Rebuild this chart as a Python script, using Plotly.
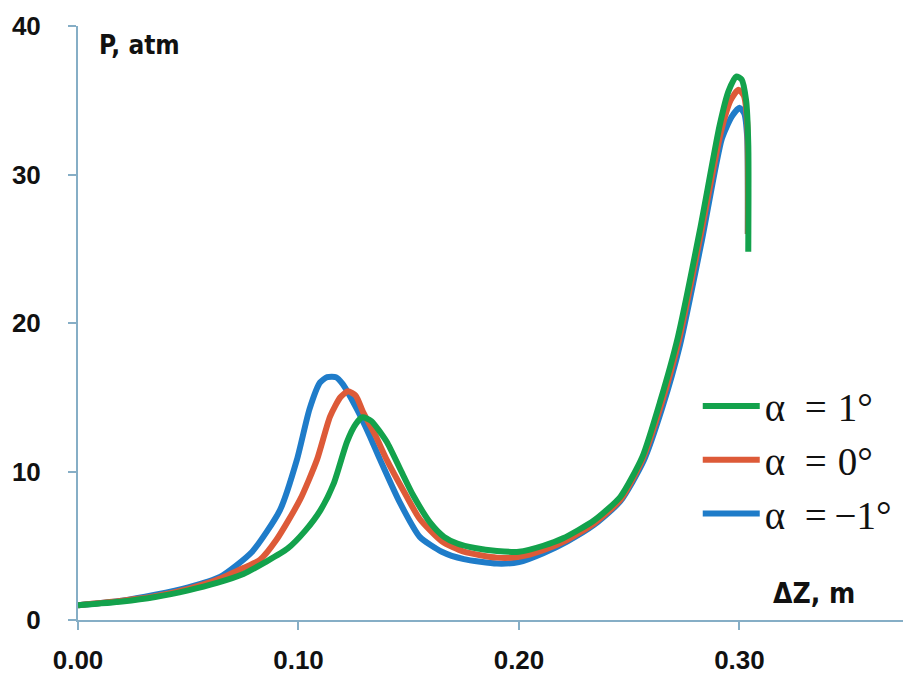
import plotly.graph_objects as go

# alpha = 1 deg (green)
x_p1 = [0, 0.02, 0.035, 0.05, 0.063, 0.075, 0.085, 0.095, 0.103, 0.11, 0.116, 0.122, 0.126, 0.129,
        0.133, 0.14, 0.146, 0.152, 0.16, 0.166, 0.172, 0.18, 0.19, 0.2, 0.211, 0.22, 0.234, 0.246, 0.256,
        0.264, 0.272, 0.282, 0.291, 0.295, 0.2985, 0.301, 0.303, 0.304, 0.304]
p_p1 = [1.0, 1.25, 1.55, 2.0, 2.5, 3.1, 3.9, 4.8, 6.0, 7.4, 9.2, 12.0, 13.2, 13.65,
        13.4, 12.0, 10.2, 8.4, 6.5, 5.6, 5.15, 4.85, 4.65, 4.6, 5.0, 5.5, 6.7, 8.3, 11.0,
        14.7, 19.0, 26.2, 33.3, 35.6, 36.6, 36.4, 35.0, 32.0, 24.8]

# alpha = 0 deg (orange)
x_0 = [0, 0.02, 0.035, 0.05, 0.063, 0.075, 0.0825, 0.09, 0.1007, 0.1084, 0.1143, 0.119, 0.1224,
       0.126, 0.1293, 0.135, 0.14, 0.148, 0.155, 0.165, 0.175, 0.19, 0.2, 0.211, 0.222, 0.234,
       0.246, 0.256, 0.2645, 0.2725, 0.2825, 0.2915, 0.296, 0.2995, 0.302, 0.3035, 0.3038]
p_0 = [1.0, 1.3, 1.6, 2.1, 2.7, 3.5, 4.05, 5.4, 8.1, 10.8, 13.7, 15.0, 15.4,
       15.1, 14.0, 12.4, 10.8, 8.6, 6.8, 5.3, 4.6, 4.2, 4.25, 4.7, 5.4, 6.5,
       8.1, 10.8, 14.5, 18.8, 26.0, 32.8, 35.0, 35.7, 35.3, 33.5, 26.0]

# alpha = -1 deg (blue)
x_m1 = [0, 0.02, 0.035, 0.05, 0.0644, 0.079, 0.0916, 0.0993, 0.105, 0.1098, 0.113, 0.117, 0.12,
        0.1265, 0.132, 0.137, 0.146, 0.155, 0.165, 0.175, 0.19, 0.2, 0.211, 0.222, 0.234, 0.246,
        0.2565, 0.265, 0.273, 0.283, 0.292, 0.2965, 0.3, 0.3022, 0.3035, 0.3038]
p_m1 = [1.0, 1.3, 1.7, 2.2, 2.9, 4.6, 7.4, 10.8, 14.2, 16.0, 16.35, 16.35, 15.9,
        14.2, 12.5, 10.8, 7.9, 5.6, 4.6, 4.1, 3.8, 3.9, 4.5, 5.3, 6.4, 8.0,
        10.7, 14.3, 18.5, 25.6, 32.4, 33.9, 34.5, 34.1, 32.5, 26.0]

x_ticks = [0.0, 0.1, 0.2, 0.3]
x_tick_labels = ["0.00", "0.10", "0.20", "0.30"]
y_ticks = [0, 10, 20, 30, 40]
y_tick_labels = ["0", "10", "20", "30", "40"]

fig = go.Figure()
fig.add_trace(go.Scatter(x=x_m1, y=p_m1, mode="lines", name="α\u2002=\u2009\u22121°",
                         line=dict(color="#1f7cc9", width=6, shape="spline", smoothing=0.6)))
fig.add_trace(go.Scatter(x=x_0, y=p_0, mode="lines", name="α\u2002=\u2009\u200a0°",
                         line=dict(color="#dd5a38", width=6, shape="spline", smoothing=0.6)))
fig.add_trace(go.Scatter(x=x_p1, y=p_p1, mode="lines", name="α\u2002=\u2009\u200a1°",
                         line=dict(color="#13a24c", width=6, shape="spline", smoothing=0.6)))

axis_col = "#86aec6"
tick_font = dict(family="Liberation Sans", size=26, color="#111111")

fig.update_layout(
    width=903, height=668,
    margin=dict(l=70, r=0, t=18, b=56, autoexpand=False),
    paper_bgcolor="white", plot_bgcolor="white",
    showlegend=True,
    legend=dict(traceorder="reversed", x=0.744, y=0.269, xanchor="left", yanchor="middle",
                font=dict(family="Liberation Serif", size=39, color="#111111"),
                bgcolor="rgba(0,0,0,0)", itemwidth=57, tracegroupgap=0),
    xaxis=dict(range=[0, 0.3778], tickvals=x_ticks, ticktext=["<b>%s</b>" % t for t in x_tick_labels],
               showgrid=False, zeroline=False, showline=True, linecolor=axis_col, linewidth=2,
               ticks="outside", ticklen=8, tickcolor=axis_col, tickwidth=1.5,
               tickfont=tick_font, ticklabelstandoff=8, automargin=False),
    yaxis=dict(range=[0, 40], tickvals=y_ticks, ticktext=["<b>%s</b>" % t for t in y_tick_labels],
               showgrid=False, zeroline=False,
               showline=True, linecolor=axis_col, linewidth=2,
               ticks="outside", ticklen=8, tickcolor=axis_col, tickwidth=1.5,
               tickfont=tick_font, ticklabelstandoff=22, automargin=False),
    annotations=[
        dict(text="<b>P, atm</b>", x=0.023, y=0.997, xref="paper", yref="paper",
             xanchor="left", yanchor="top", showarrow=False,
             font=dict(family="Liberation Sans Narrow, DejaVu Sans Condensed, Liberation Sans",
                       size=26, color="#111111")),
        dict(text="<b>ΔZ, m</b>", x=0.935, y=0.013, xref="paper", yref="paper",
             xanchor="right", yanchor="bottom", showarrow=False,
             font=dict(family="Liberation Sans Narrow, DejaVu Sans Condensed, Liberation Sans",
                       size=28, color="#111111")),
    ],
)

fig.write_html("out.html")
